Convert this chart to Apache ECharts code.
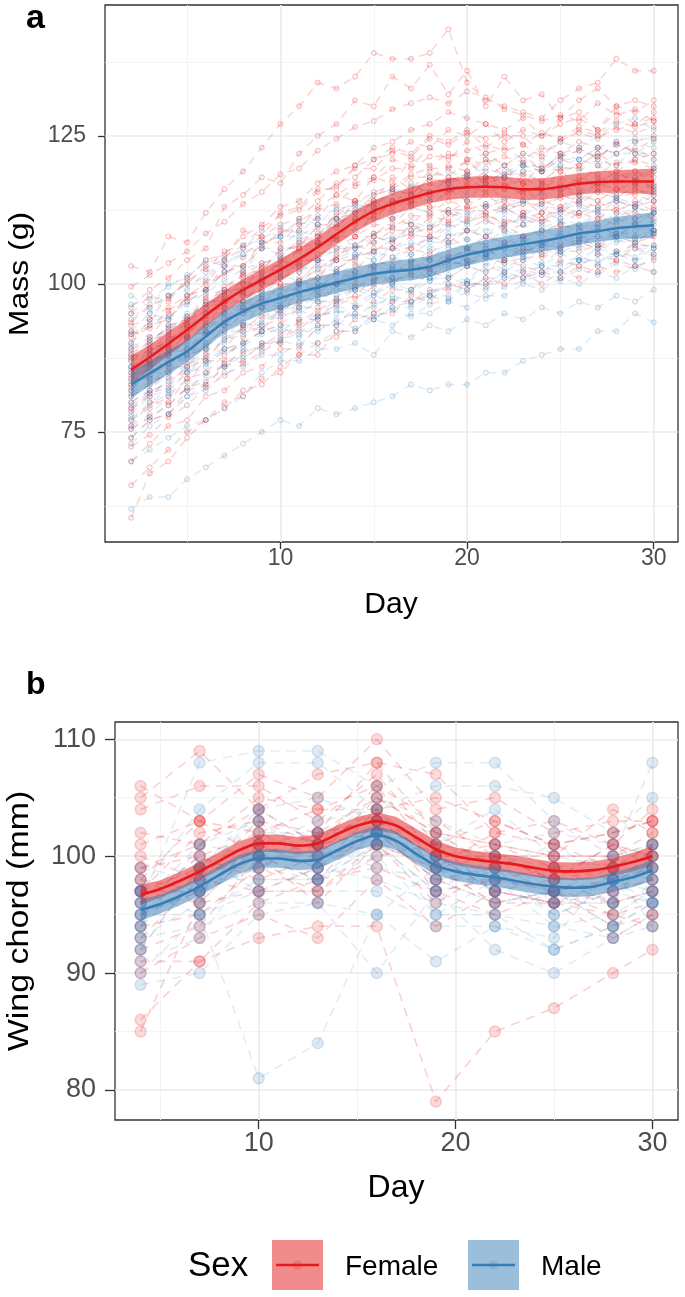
<!DOCTYPE html>
<html><head><meta charset="utf-8">
<script src="https://cdn.jsdelivr.net/npm/echarts@6/dist/echarts.min.js"></script>
<style>html,body{margin:0;padding:0;background:#fff}#c{width:685px;height:1297px}</style>
</head><body><div id="c"></div>
<script>
// ---------- Panel a: body mass (g) by day ----------
const massDays = [2,3,4,5,6,7,8,9,10,11,12,13,14,15,16,17,18,19,20,21,22,23,24,25,26,27,28,29,30];
const femaleMass = [
[103,102,108,107,112,116,119,123,127,130,134,133,135,139,138,138,139,143,134,131,130,129,128,131,133,134,138,136,136],
[96,99,101,104,106,113,115,118,117,122,125,127,131,130,135,133,137,132,136,130,135,131,132,128,131,133,130,129,131],
[93,94,98,100,103,104,109,108,112,113,116,116,120,121,123,122,125,124,126,123,125,125,122,124,126,125,126,127,128],
[91,93,94,98,99,102,103,107,107,110,111,115,114,118,117,121,120,122,121,122,120,122,119,122,123,121,124,122,122],
[89,90,93,94,98,99,102,102,106,106,110,110,114,114,118,116,119,118,121,118,120,117,120,119,120,122,119,121,122],
[87,89,90,94,95,99,99,103,102,106,107,111,110,114,113,117,115,118,117,119,116,118,116,119,117,120,118,119,118],
[86,87,91,92,96,97,100,100,104,103,107,108,111,111,114,114,117,115,118,116,117,115,117,116,118,117,119,117,119],
[84,87,88,92,93,97,97,100,100,104,104,108,108,112,111,114,113,116,114,117,114,116,114,117,115,117,116,117,116],
[83,84,88,89,92,94,97,96,100,100,104,104,108,108,111,110,113,112,114,113,114,112,114,113,115,114,116,115,114],
[81,83,85,88,89,93,93,97,96,100,101,104,104,108,107,110,109,112,111,112,110,112,111,113,112,114,112,114,113],
[79,81,84,85,88,89,93,92,96,97,99,102,102,106,106,108,108,110,109,111,109,110,111,110,112,111,113,111,112],
[77,79,81,84,85,88,90,92,93,96,96,100,100,103,104,106,105,108,106,108,107,108,106,109,108,110,108,110,109],
[74,77,78,82,83,86,87,90,90,94,94,97,98,101,101,104,103,105,104,106,104,106,105,106,107,106,108,107,108],
[70,73,76,77,81,82,85,86,89,89,93,93,96,97,99,99,102,101,103,102,104,103,102,104,103,105,104,106,105],
[66,69,72,75,77,80,81,84,85,88,88,92,92,95,95,98,97,100,99,101,100,102,100,102,101,103,102,103,102],
[60.5,68,70,74,77,79,82,83,86,88,90,91,94,95,97,97,99,99,100,100,102,101,102,101,103,102,104,103,104],
[95,98,97,101,104,105,108,110,113,114,117,119,120,123,124,126,127,129,128,127,126,128,125,127,128,126,129,127,129],
[92,91,95,97,99,103,103,106,109,109,113,115,117,118,121,120,123,121,124,122,123,121,123,122,124,123,122,124,125],
[85,89,89,93,94,98,100,101,104,106,108,111,112,115,116,118,118,120,119,121,118,120,119,121,120,122,120,121,120],
[88,88,92,93,97,97,101,103,103,107,108,112,114,113,116,115,118,117,119,117,118,117,116,118,116,118,117,119,117],
[82,86,87,91,92,95,96,99,101,102,105,106,108,110,110,113,112,114,113,115,113,114,112,115,114,116,115,116,115],
[80,82,86,86,90,92,95,96,98,101,101,105,106,107,109,109,111,111,113,112,113,111,112,112,114,113,114,113,114],
[76,80,80,84,87,87,91,93,94,97,98,100,103,103,106,106,108,107,109,108,110,108,109,110,109,111,110,112,111],
[90,94,96,98,100,104,106,108,110,111,114,117,118,121,122,124,123,126,125,127,124,126,125,128,129,126,130,131,130],
[84.5,86.5,89.5,91.5,94.5,96.5,98.5,100.5,102.5,103.5,106.5,107.5,110.5,111.5,113.5,113.5,115.5,115.5,116.5,115.5,116.5,115.5,116.5,115.5,117.5,116.5,117.5,117.5,116.5],
[87.5,90.5,91.5,94.5,96.5,99.5,101.5,103.5,104.5,107.5,108.5,111.5,113.5,115.5,116.5,118.5,119.5,119.5,120.5,120.5,121.5,120.5,119.5,121.5,122.5,121.5,123.5,122.5,124.5],
[82.5,84.5,86.5,88.5,91.5,93.5,95.5,97.5,99.5,100.5,102.5,104.5,106.5,108.5,109.5,111.5,111.5,112.5,112.5,113.5,112.5,113.5,113.5,114.5,113.5,115.5,114.5,115.5,115.5],
[91.5,92.5,95.5,97.5,100.5,101.5,104.5,106.5,108.5,110.5,112.5,113.5,116.5,117.5,119.5,119.5,121.5,121.5,122.5,123.5,122.5,123.5,121.5,124.5,125.5,124.5,126.5,125.5,126.5],
[78.5,81.5,82.5,86.5,87.5,90.5,92.5,94.5,95.5,98.5,99.5,102.5,104.5,105.5,107.5,108.5,109.5,110.5,110.5,111.5,110.5,111.5,110.5,112.5,111.5,112.5,112.5,113.5,112.5],
[99.5,101.5,103.5,105.5,108.5,110.5,113.5,115.5,118.5,119.5,122.5,124.5,126.5,127.5,129.5,130.5,131.5,130.5,132.5,131.5,129.5,128.5,127.5,128.5,127.5,130.5,128.5,129.5,127.5],
[75.5,77.5,79.5,82.5,83.5,86.5,88.5,89.5,91.5,93.5,95.5,97.5,99.5,100.5,102.5,102.5,104.5,104.5,105.5,105.5,106.5,105.5,106.5,106.5,107.5,106.5,108.5,107.5,108.5],
[88.5,89.5,92.5,93.5,97.5,98.5,101.5,102.5,105.5,106.5,109.5,109.5,112.5,113.5,115.5,115.5,117.5,117.5,118.5,117.5,118.5,118.5,117.5,119.5,119.5,118.5,120.5,120.5,119.5],
[72.5,74.5,77.5,79.5,82.5,84.5,86.5,88.5,90.5,92.5,94.5,96.5,97.5,99.5,100.5,101.5,102.5,103.5,103.5,104.5,103.5,104.5,104.5,105.5,105.5,106.5,105.5,106.5,106.5],
[93.5,96.5,97.5,100.5,102.5,105.5,106.5,109.5,111.5,112.5,115.5,116.5,119.5,119.5,122.5,121.5,124.5,123.5,125.5,124.5,125.5,123.5,125.5,124.5,126.5,125.5,127.5,126.5,127.5]
];
const maleMass = [
[62,64,64,67,69,71,73,75,77,76,79,78,79,80,81,83,82,83,83,85,85,87,88,89,89,92,92,95,93.5],
[70,72,74,76,77,79,81,85,87,87,89,89,90,88,92,91,93,92,94,93,95,94,96,95,97,96,98,97,99],
[98,96,100,101,104,103,106,109,108,111,110,113,112,115,116,115,118,119,118,121,120,122,121,124,123,125,127,128,126],
[92,95,94,98,99,102,102,106,105,107,107,110,109,111,111,113,112,116,114,118,116,119,117,120,119,121,120,123,121],
[89,91,92,95,96,99,99,102,102,104,104,106,106,108,107,110,108,112,110,113,112,114,113,115,114,117,115,118,116],
[87,88,91,91,95,95,98,98,101,100,103,102,105,104,106,105,107,107,109,108,111,110,112,111,113,112,114,113,115],
[85,87,88,91,92,95,95,98,97,100,99,102,101,104,103,105,104,107,106,108,107,110,108,111,110,112,111,113,112],
[84,84,88,88,92,93,96,96,98,98,100,100,102,101,103,102,104,104,106,105,107,107,109,108,110,109,111,110,112],
[82,85,85,89,89,93,93,96,95,98,97,100,99,102,100,103,101,104,103,106,104,107,105,108,106,109,108,110,109],
[80,82,85,86,89,90,93,93,96,95,97,97,99,98,100,99,101,101,103,102,105,104,106,105,107,106,108,107,109],
[78,81,82,85,86,89,90,92,92,94,94,96,96,98,97,99,98,101,100,103,102,104,103,105,104,106,105,107,106],
[76,78,81,82,85,86,89,89,91,91,93,93,95,94,96,96,98,97,100,99,101,101,102,102,104,103,105,104,105],
[74,77,78,81,82,85,86,88,88,90,90,92,92,94,93,95,95,97,96,98,98,100,99,101,100,102,101,103,102],
[95,95,98,99,102,103,105,107,108,108,110,111,112,113,114,115,114,117,118,117,119,120,119,122,121,123,124,122,124],
[90,93,94,97,99,102,103,106,106,109,108,111,111,114,112,115,114,117,115,118,118,120,119,121,121,123,122,124,123],
[86,89,90,93,95,96,98,99,98,100,101,100,102,103,102,104,104,106,106,107,109,108,109,110,109,110,112,111,112],
[81,83,86,88,90,92,92,95,96,96,97,99,99,100,101,101,102,103,104,105,104,106,107,106,108,108,108,109,110],
[79,82,83,86,87,91,92,94,95,96,98,98,99,100,100,102,101,104,103,105,106,105,107,107,108,107,109,108,109],
[83,86,89,90,93,96,97,100,101,102,104,104,106,107,108,109,110,110,112,113,113,114,115,116,115,117,118,118,119],
[77,80,82,85,87,89,90,92,93,93,95,95,96,96,98,97,98,100,99,101,101,102,103,102,104,104,105,104,106],
[73,76,78,81,83,86,88,90,90,92,92,94,95,94,96,97,98,98,100,100,102,101,103,103,104,105,105,106,106],
[88,90,93,94,97,98,99,101,102,103,102,104,105,105,106,107,106,108,109,109,110,111,110,112,112,113,114,113,114],
[94,96,98,100,101,104,105,107,108,110,111,111,113,112,114,114,115,116,116,118,118,119,119,120,121,120,122,122,121],
[86,88,89,91,93,94,96,97,99,99,100,100,101,102,101,103,102,104,104,105,106,105,107,106,107,108,107,108,109],
[83.5,85.5,86.5,89.5,91.5,93.5,95.5,97.5,96.5,99.5,98.5,100.5,101.5,100.5,102.5,103.5,102.5,104.5,105.5,104.5,106.5,107.5,106.5,108.5,107.5,109.5,108.5,110.5,110.5],
[87.5,88.5,90.5,92.5,94.5,97.5,98.5,100.5,101.5,100.5,103.5,102.5,104.5,105.5,104.5,106.5,107.5,108.5,107.5,110.5,109.5,111.5,110.5,112.5,113.5,112.5,114.5,113.5,115.5],
[79.5,81.5,83.5,85.5,88.5,90.5,91.5,93.5,94.5,95.5,94.5,97.5,96.5,98.5,99.5,98.5,100.5,101.5,100.5,103.5,102.5,104.5,103.5,105.5,106.5,105.5,107.5,106.5,108.5],
[91.5,93.5,94.5,96.5,98.5,100.5,102.5,103.5,104.5,105.5,106.5,107.5,106.5,108.5,109.5,110.5,109.5,112.5,111.5,113.5,114.5,113.5,115.5,116.5,115.5,117.5,118.5,117.5,119.5],
[75.5,77.5,79.5,82.5,84.5,86.5,87.5,89.5,90.5,89.5,92.5,93.5,92.5,94.5,95.5,94.5,96.5,97.5,98.5,97.5,99.5,100.5,101.5,100.5,102.5,101.5,103.5,102.5,104.5],
[85.5,86.5,88.5,90.5,93.5,95.5,96.5,98.5,99.5,100.5,99.5,101.5,103.5,102.5,104.5,103.5,105.5,106.5,107.5,106.5,108.5,107.5,109.5,110.5,109.5,111.5,110.5,112.5,112.5],
[81.5,83.5,84.5,87.5,89.5,91.5,93.5,92.5,95.5,96.5,97.5,96.5,99.5,98.5,100.5,101.5,100.5,102.5,103.5,104.5,103.5,105.5,106.5,105.5,107.5,106.5,108.5,107.5,108.5],
[96.5,97.5,99.5,101.5,103.5,104.5,106.5,107.5,109.5,108.5,111.5,112.5,113.5,112.5,115.5,116.5,115.5,117.5,118.5,119.5,118.5,120.5,119.5,121.5,122.5,121.5,123.5,124.5,124.5],
[77.5,79.5,81.5,83.5,86.5,88.5,89.5,91.5,92.5,91.5,94.5,95.5,94.5,96.5,97.5,96.5,98.5,99.5,100.5,99.5,101.5,102.5,101.5,103.5,104.5,103.5,105.5,104.5,106.5],
[89.5,90.5,92.5,94.5,96.5,98.5,100.5,101.5,103.5,102.5,104.5,105.5,106.5,105.5,107.5,108.5,107.5,109.5,110.5,111.5,112.5,111.5,113.5,112.5,114.5,115.5,114.5,116.5,116.5]
];
// smoothed fits and their confidence bands
const femaleMassFit   = [85.5,87.6,89.9,92.2,94.7,97.0,99.0,100.7,102.4,104.2,106.2,108.4,110.5,112.3,113.5,114.5,115.4,116.0,116.3,116.4,116.3,116.0,116.0,116.4,116.9,117.2,117.3,117.3,117.3];
const femaleMassLower = [83.2,85.5,87.9,90.3,92.8,95.2,97.2,98.9,100.6,102.4,104.4,106.6,108.7,110.5,111.7,112.7,113.6,114.2,114.5,114.6,114.5,114.2,114.2,114.6,115.1,115.4,115.4,115.3,115.1];
const femaleMassUpper = [87.8,89.7,91.9,94.1,96.6,98.8,100.8,102.5,104.2,106.0,108.0,110.2,112.3,114.1,115.3,116.3,117.2,117.8,118.1,118.2,118.1,117.8,117.8,118.2,118.7,119.0,119.2,119.3,119.5];
const maleMassFit     = [83.0,84.9,86.8,88.6,91.1,93.6,95.3,96.7,97.6,98.6,99.4,100.2,101.0,101.7,102.1,102.4,102.9,104.0,104.9,105.6,106.2,106.7,107.2,107.8,108.5,108.9,109.4,109.7,109.9];
const maleMassLower   = [80.7,82.8,84.8,86.7,89.2,91.8,93.5,94.9,95.8,96.8,97.6,98.4,99.2,99.9,100.3,100.6,101.1,102.2,103.1,103.8,104.4,104.9,105.4,106.0,106.7,107.1,107.5,107.7,107.7];
const maleMassUpper   = [85.3,87.0,88.8,90.5,93.0,95.4,97.1,98.5,99.4,100.4,101.2,102.0,102.8,103.5,103.9,104.2,104.7,105.8,106.7,107.4,108.0,108.5,109.0,109.6,110.3,110.7,111.3,111.7,112.1];
const massTicksX = [10,20,30];
const massMinorX = [5,15,25];
const massTicksY = [75,100,125];
const massMinorY = [62.5,87.5,112.5,137.5];

// ---------- Panel b: wing chord (mm) by day ----------
const wingDays = [4,7,10,13,16,19,22,25,28,30];
const femaleWing = [
[106,103,107,105,110,104,105,102,103,103],
[105,109,104,107,108,107,102,103,101,104],
[104,106,106,103,107,101,103,101,102,103],
[102,101,105,104,106,103,100,100,104,102],
[101,103,100,102,108,102,101,100,100,101],
[100,98,103,101,104,99,102,101,99,100],
[99,100,102,100,105,102,99,98,101,99],
[98,97,101,102,103,100,101,99,98,100],
[97,99,99,101,102,98,98,99,97,98],
[97,96,101,99,104,100,97,98,99,101],
[96,100,98,100,101,99,100,98,96,97],
[95,97,100,98,103,97,98,97,98,99],
[94,95,99,97,100,101,97,96,97,98],
[93,98,97,99,102,98,96,97,95,96],
[92,94,100,96,101,96,99,97,96,97],
[91,91,96,98,99,97,95,97,94,95],
[90,93,95,93,98,94,97,96,93,95],
[86,91,93,94,94,79,85,87,90,92],
[85,96,97,97,101,99,96,96,95,94],
[98,103,102,104,104,105,103,101,102,103],
[97,102,103,102,105,102,101,100,100,102],
[99,101,104,101,106,100,100,98,101,100]
];
const maleWing = [
[97,95,81,84,95,91,94,92,94,96],
[89,90,95,96,90,97,92,90,93,94],
[96,108,109,109,106,108,108,103,100,108],
[97,104,108,108,104,106,106,105,102,105],
[95,99,104,105,103,101,104,100,99,101],
[94,101,103,100,102,100,97,99,96,100],
[93,96,101,103,104,98,99,95,97,99],
[92,99,100,101,99,98,96,97,98,96],
[91,93,100,98,101,97,98,94,95,97],
[90,95,97,99,98,96,95,92,94,96],
[95,95,98,98,102,95,95,94,93,95],
[96,100,97,97,97,94,94,93,99,94],
[94,99,100,100,102,101,100,99,100,101],
[98,96,102,102,103,102,99,98,98,99],
[99,98,104,101,105,103,101,102,101,100],
[92,99,103,99,101,100,97,96,96,97],
[93,94,96,96,95,99,96,97,94,98],
[95,97,99,98,100,95,98,95,97,96],
[96,101,100,101,102,99,97,96,98,99],
[97,97,101,99,103,100,98,97,99,98],
[94,98,98,98,101,97,100,96,96,101],
[97,97,99,102,102,98,99,101,98,97]
];
const wingFitDays     = [4,5,6,7,8,9,10,11,12,13,14,15,16,17,18,19,20,21,22,23,24,25,26,27,28,29,30];
const femaleWingFit   = [96.7,97.2,97.9,98.7,99.6,100.5,101.1,101.1,100.9,101.1,101.9,102.6,103.0,102.6,101.6,100.6,100.0,99.7,99.5,99.3,99.0,98.75,98.7,98.8,99.1,99.5,100.0];
const femaleWingLower = [95.85,96.45,97.15,97.95,98.85,99.75,100.35,100.35,100.15,100.35,101.15,101.85,102.25,101.85,100.85,99.85,99.25,98.95,98.75,98.55,98.25,98.0,97.95,98.05,98.35,98.7,99.15];
const femaleWingUpper = [97.55,97.95,98.65,99.45,100.35,101.25,101.85,101.85,101.65,101.85,102.65,103.35,103.75,103.35,102.35,101.35,100.75,100.45,100.25,100.05,99.75,99.5,99.45,99.55,99.85,100.3,100.85];
const maleWingFit     = [95.4,95.9,96.6,97.4,98.4,99.3,99.8,99.8,99.6,99.7,100.5,101.3,101.8,101.3,100.2,99.2,98.7,98.4,98.2,97.9,97.6,97.4,97.3,97.4,97.8,98.2,98.8];
const maleWingLower   = [94.5,95.1,95.8,96.6,97.6,98.5,99.0,99.0,98.8,98.9,99.7,100.5,101.0,100.5,99.4,98.4,97.9,97.6,97.4,97.1,96.8,96.6,96.5,96.6,97.0,97.35,97.9];
const maleWingUpper   = [96.3,96.7,97.4,98.2,99.2,100.1,100.6,100.6,100.4,100.5,101.3,102.1,102.6,102.1,101.0,100.0,99.5,99.2,99.0,98.7,98.4,98.2,98.1,98.2,98.6,99.05,99.7];
const wingTicksX = [10,20,30];
const wingMinorX = [5,15,25];
const wingTicksY = [80,90,100,110];
const wingMinorY = [85,95,105];

const legendLabels = ['Female','Male'];

// ---------- styling helpers ----------
const RED = [228,26,28], BLUE = [55,126,184];
const col = (c,a) => `rgba(${c[0]},${c[1]},${c[2]},${a})`;
const FONT = '"Liberation Sans", Arial, sans-serif';

function pairs(days, vals){ const o=[]; days.forEach((d,i)=>{ if(vals[i]!=null) o.push([d, vals[i]]); }); return o; }

function gridLines(g, mx, nx, my, ny){
  const major = {color:'#ebebeb', width:1.7, type:'solid'};
  const minor = {color:'#f3f3f3', width:0.9, type:'solid'};
  const data = [];
  nx.forEach(v=>data.push({xAxis:v, lineStyle:minor}));
  ny.forEach(v=>data.push({yAxis:v, lineStyle:minor}));
  mx.forEach(v=>data.push({xAxis:v, lineStyle:major}));
  my.forEach(v=>data.push({yAxis:v, lineStyle:major}));
  return {type:'line', xAxisIndex:g, yAxisIndex:g, data:[], z:0, silent:true,
    markLine:{z:0, zlevel:0, silent:true, symbol:['none','none'], label:{show:false}, animation:false, data}};
}
function indivLines(g, birds, days, c, a, w, dash){
  return birds.map(b => ({type:'line', xAxisIndex:g, yAxisIndex:g, data:pairs(days,b), symbol:'none', showSymbol:false,
    silent:true, z:1, lineStyle:{color:col(c,a), width:w, type:dash}}));
}
function points(g, birds, days, size, c, fa, ba, bw){
  const data=[]; birds.forEach(b=>data.push(...pairs(days,b)));
  return {type:'scatter', xAxisIndex:g, yAxisIndex:g, data, symbol:'circle', symbolSize:size, silent:true, z:2,
    itemStyle:{color:col(c,fa), borderColor:col(c,ba), borderWidth:bw}};
}
function smoothFit(g, days, lower, upper, fit, c, lw){
  return [
    {type:'custom', xAxisIndex:g, yAxisIndex:g, silent:true, z:3, clip:true,
      data:days.map((d,i)=>[d, lower[i], upper[i]]), encode:{x:0, y:[1,2]},
      renderItem:(params, api) => {
        if (params.dataIndex !== 0) return null;
        const pts = [];
        for (let i=0;i<days.length;i++) pts.push(api.coord([days[i], upper[i]]));
        for (let i=days.length-1;i>=0;i--) pts.push(api.coord([days[i], lower[i]]));
        return {type:'polygon', shape:{points:pts}, style:{fill:col(c,0.5), stroke:null}};
      }},
    {type:'line', xAxisIndex:g, yAxisIndex:g, data:pairs(days,fit), symbol:'none', smooth:0.25, silent:true, z:4,
      lineStyle:{color:col(c,1), width:lw}}
  ];
}
function axisDef(g, min, max, ticks, fs, tickLen, margin){
  return {gridIndex:g, type:'value', min, max, axisLine:{show:false}, splitLine:{show:false},
    axisTick:{show:true, customValues:ticks, length:tickLen, lineStyle:{color:'#333333', width:1.3}},
    axisLabel:{customValues:ticks, fontSize:fs, color:'#4d4d4d', margin, fontFamily:FONT}};
}

const series = [
  gridLines(0, massTicksX, massMinorX, massTicksY, massMinorY),
  gridLines(1, wingTicksX, wingMinorX, wingTicksY, wingMinorY),
  ...indivLines(0, femaleMass, massDays, RED, 0.19, 1.5, [8,7]),
  ...indivLines(0, maleMass, massDays, BLUE, 0.16, 1.5, [8,7]),
  points(0, femaleMass, massDays, 5, RED, 0.05, 0.36, 1),
  points(0, maleMass, massDays, 5, BLUE, 0.05, 0.36, 1),
  ...smoothFit(0, massDays, femaleMassLower, femaleMassUpper, femaleMassFit, RED, 2.5),
  ...smoothFit(0, massDays, maleMassLower, maleMassUpper, maleMassFit, BLUE, 2.5),
  ...indivLines(1, femaleWing, wingDays, RED, 0.2, 1.6, [9,7]),
  ...indivLines(1, maleWing, wingDays, BLUE, 0.15, 1.6, [9,7]),
  points(1, femaleWing, wingDays, 11, RED, 0.2, 0.22, 1.5),
  points(1, maleWing, wingDays, 11, BLUE, 0.2, 0.22, 1.5),
  ...smoothFit(1, wingFitDays, femaleWingLower, femaleWingUpper, femaleWingFit, RED, 2.7),
  ...smoothFit(1, wingFitDays, maleWingLower, maleWingUpper, maleWingFit, BLUE, 2.7)
];

function txt(text, x, y, size, opt={}){
  return Object.assign({type:'text', x, y, silent:true, z:100,
    style:{text, font:`${opt.bold?'bold ':''}${size}px ${FONT}`, fill:opt.fill||'#000000',
      textAlign:opt.align||'left', textVerticalAlign:'middle', align:opt.align||'left', verticalAlign:'middle'}},
    opt.extra||{});
}
function legendKey(x, c){
  return [
    {type:'rect', shape:{x, y:1240, width:51, height:50}, style:{fill:col(c,0.5)}, silent:true, z:100},
    {type:'circle', shape:{cx:x+25.5, cy:1265, r:4.5}, style:{fill:col(c,0.2)}, silent:true, z:101},
    {type:'line', shape:{x1:x+4, y1:1265, x2:x+47, y2:1265}, style:{stroke:col(c,1), lineWidth:2.6}, silent:true, z:102}
  ];
}

const option = {
  animation:false,
  backgroundColor:'#ffffff',
  grid:[
    {left:105, top:5, width:573, height:537, show:true, borderColor:'#333333', borderWidth:1.3, backgroundColor:'transparent'},
    {left:115, top:722, width:563, height:398, show:true, borderColor:'#333333', borderWidth:1.3, backgroundColor:'transparent'}
  ],
  xAxis:[ axisDef(0, 0.6, 31.3, massTicksX, 23, 7, 5), axisDef(1, 2.7, 31.3, wingTicksX, 27, 9, 10) ],
  yAxis:[ axisDef(0, 56.4, 147.1, massTicksY, 23, 7, 19), axisDef(1, 77.43, 111.48, wingTicksY, 27, 10, 19) ],
  series,
  graphic:[
    txt('a', 26, 19, 34, {bold:true}),
    txt('b', 26, 685, 32, {bold:true}),
    txt('Mass (g)', 20, 274, 32, {align:'center', extra:{rotation:Math.PI/2, scaleY:0.88}}),
    txt('Day', 391, 605, 30, {align:'center'}),
    txt('Wing chord (mm)', 20, 921, 34, {align:'center', extra:{rotation:Math.PI/2, scaleY:0.88}}),
    txt('Day', 396, 1188, 32, {align:'center'}),
    txt('Sex', 188, 1266, 35),
    ...legendKey(272, RED),
    txt(legendLabels[0], 345, 1267, 28),
    ...legendKey(468, BLUE),
    txt(legendLabels[1], 541, 1267, 28)
  ]
};
const chart = echarts.init(document.getElementById('c'), null, {renderer:'canvas', width:685, height:1297});
chart.setOption(option);
</script></body></html>
